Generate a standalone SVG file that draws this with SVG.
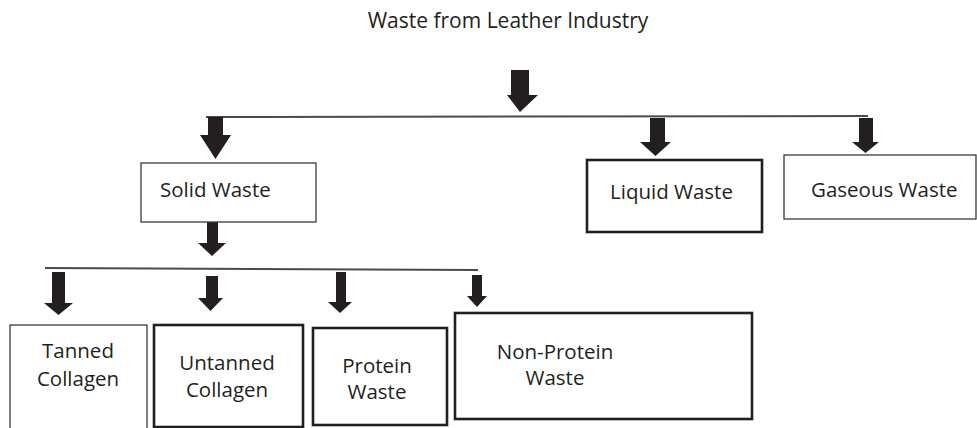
<svg xmlns="http://www.w3.org/2000/svg" width="977" height="428" viewBox="0 0 977 428">
<style>
.bg{fill:#ffffff}
.t{font-family:"Open Sans","Noto Sans",sans-serif;font-size:20.5px;fill:#231f20}
.c{text-anchor:middle}
.thin{fill:#ffffff;stroke:#3a3a3a;stroke-width:1.3}
.thick{fill:#ffffff;stroke:#231f20;stroke-width:2.6}
.ln{stroke:#4a4a4a;stroke-width:2;fill:none}
.ar{fill:#231f20}
</style>
<rect class="bg" x="0" y="0" width="977" height="428"/>
<g id="title"><text class="t c" x="508" y="28" style="font-size:21px">Waste from Leather Industry</text></g>
<g id="connectors">
<line class="ln" x1="206" y1="117" x2="868" y2="116"/>
<line class="ln" x1="45" y1="268" x2="478" y2="270"/>
<polygon class="ar" points="511,70 529,70 529,95 538,95 520,112 507,95 511,95"/>
<polygon class="ar" points="208,117 223,117 223,135 231,135 215.5,159 200,135 208,135"/>
<polygon class="ar" points="650,118 665,118 665,142 671,142 655.5,156 640,142 650,142"/>
<polygon class="ar" points="859,118 873,118 873,142 879,142 865.5,153 852,142 859,142"/>
<polygon class="ar" points="207,222 218,222 218,243 226,243 212,256 198,243 207,243"/>
<polygon class="ar" points="52,272 65,272 65,303 73,303 58.5,315 44,303 52,303"/>
<polygon class="ar" points="206,276 218,276 218,298 223,298 210.5,311 198,298 206,298"/>
<polygon class="ar" points="336,272 346,272 346,302 352,302 340,313 328,302 336,302"/>
<polygon class="ar" points="472,275 482,275 482,296 487,296 477,307 467,296 472,296"/>
</g>
<g id="solid"><rect class="thin" x="141" y="163" width="175" height="59"/><text class="t" x="160" y="197">Solid Waste</text></g>
<g id="liquid"><rect class="thick" x="587" y="160" width="175" height="72"/><text class="t" x="610" y="199">Liquid Waste</text></g>
<g id="gaseous"><rect class="thin" x="784" y="155" width="192" height="64"/><text class="t" x="811" y="197">Gaseous Waste</text></g>
<g id="tanned"><rect class="thin" x="10" y="325" width="137" height="110"/><text class="t c" x="78" y="358">Tanned</text><text class="t c" x="78" y="386">Collagen</text></g>
<g id="untanned"><rect class="thick" x="154" y="325" width="149" height="102"/><text class="t c" x="227" y="370">Untanned</text><text class="t c" x="227" y="397">Collagen</text></g>
<g id="protein"><rect class="thick" x="313" y="328" width="134" height="97"/><text class="t c" x="377" y="373">Protein</text><text class="t c" x="377" y="399">Waste</text></g>
<g id="nonprotein"><rect class="thick" x="455" y="313" width="297" height="106"/><text class="t c" x="555" y="359">Non-Protein</text><text class="t c" x="555" y="385">Waste</text></g>
</svg>
